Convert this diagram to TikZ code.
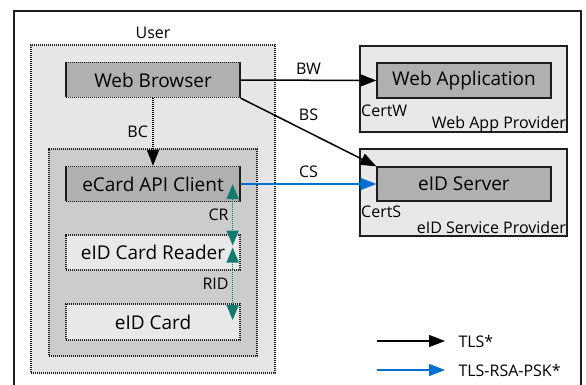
\documentclass[tikz,border=0pt]{standalone}
\usepackage{fontspec}
\setmainfont{Open Sans}
\usepackage{xcolor}
\usepackage{tikz}
\usetikzlibrary{arrows.meta, positioning, calc}
\definecolor{userfill}{RGB}{230, 230, 230}
\definecolor{clientfill}{RGB}{204, 204, 204}
\definecolor{darkfill}{RGB}{176, 176, 176}
\definecolor{lightfill}{RGB}{232, 232, 232}
\definecolor{tlsblue}{RGB}{0, 112, 210}
\definecolor{cardteal}{RGB}{20, 122, 112}
\definecolor{edgegray}{RGB}{30, 30, 30}

\begin{document}
\begin{tikzpicture}[
    x=1pt, y=-1pt,
    bigfont/.style={font=\fontsize{19}{22}\selectfont, text=black},
    smallfont/.style={font=\fontsize{16}{19}\selectfont, text=black},
    dotbox/.style={rectangle, draw=edgegray, dash pattern=on 1.2pt off 0.8pt, line width=1.3pt, fill=#1, inner sep=0pt},
    solidbox/.style={rectangle, draw=edgegray, line width=1.2pt, fill=#1, inner sep=0pt},
    unit/.style={minimum width=174pt, minimum height=35pt, bigfont},
    tip/.style={-{Triangle[length=16pt, width=12pt]}},
    tlsarrow/.style={tip, line width=1.5pt, black},
    pskarrow/.style={tip, line width=1.3pt, tlsblue},
    cardarrow/.style={{Triangle[length=15pt, width=12pt]}-{Triangle[length=15pt, width=12pt]}, dash pattern=on 1.2pt off 0.8pt, line width=1.5pt, cardteal}
]
    \useasboundingbox (0,0) rectangle (586,385);
    \draw[line width=1.3pt, edgegray] (14,11) rectangle (581,400);

    % user side
    \node[smallfont] (userlbl) at (153,33) {User};
    \node[dotbox=userfill, minimum width=244pt, minimum height=328pt] (user) at (153,209) {};
    \node[dotbox=darkfill, unit] (browser) at (153,80) {Web Browser};
    \node[dotbox=clientfill, minimum width=208pt, minimum height=207pt] (client) at (153,252.5) {};
    \node[dotbox=darkfill, unit] (ecard) at (153,184) {eCard API Client};
    \node[dotbox=lightfill, unit] (reader) at (153,252.5) {eID Card Reader};
    \node[dotbox=lightfill, unit, minimum height=36pt] (card) at (153,322) {eID Card};

    % providers
    \node[solidbox=lightfill, minimum width=207pt, minimum height=86pt] (appprov) at (463.5,89) {};
    \node[solidbox=darkfill, unit] (webapp) at (464,80.5) {Web Application};
    \node[smallfont, anchor=west, inner sep=1pt] (certw) at (360,111) {CertW};
    \node[smallfont, anchor=east, inner sep=1pt] (appprovlbl) at (567,124) {Web App Provider};
    \node[solidbox=lightfill, minimum width=207pt, minimum height=87pt] (eidprov) at (463.5,192.5) {};
    \node[solidbox=darkfill, unit, minimum height=34pt] (eidserver) at (464,184) {eID Server};
    \node[smallfont, anchor=west, inner sep=1pt] (certs) at (360,212) {CertS};
    \node[smallfont, anchor=east, inner sep=1pt] (eidprovlbl) at (567,227) {eID Service Provider};

    % channels
    \draw[tlsarrow] (browser.east) -- node[smallfont, above=2pt] {BW} (webapp.west);
    \draw[tlsarrow] (browser.south east) -- node[smallfont, above=8pt] {BS} (eidserver.north west);
    \draw[pskarrow] (ecard.east) -- node[smallfont, above=2pt] {CS} (eidserver.west);
    \draw[tip, dash pattern=on 1.2pt off 0.8pt, line width=1.5pt, black] (browser.south) -- node[smallfont, left=1pt] {BC} (ecard.north);

    \coordinate (crtop) at ($(ecard.east)+(-8,0)$);
    \coordinate (crbot) at ($(reader.east)+(-8,-7)$);
    \coordinate (ridtop) at ($(reader.east)+(-8,-5)$);
    \coordinate (ridbot) at ($(card.east)+(-8,-2)$);
    \draw[cardarrow] (crtop) -- node[smallfont, left=0pt] {CR} (crbot);
    \draw[cardarrow] (ridtop) -- node[smallfont, left=0pt] {RID} (ridbot);

    % legend
    \coordinate (tlsstart) at (377,341);
    \coordinate (tlsend) at (445,341);
    \coordinate (pskstart) at (377,370);
    \coordinate (pskend) at (445,370);
    \draw[tlsarrow] (tlsstart) -- (tlsend);
    \draw[pskarrow] (pskstart) -- (pskend);
    \node[smallfont, anchor=west] (tlslbl) at (455,341) {TLS*};
    \node[smallfont, anchor=west] (psklbl) at (455,370) {TLS-RSA-PSK*};
\end{tikzpicture}
\end{document}
